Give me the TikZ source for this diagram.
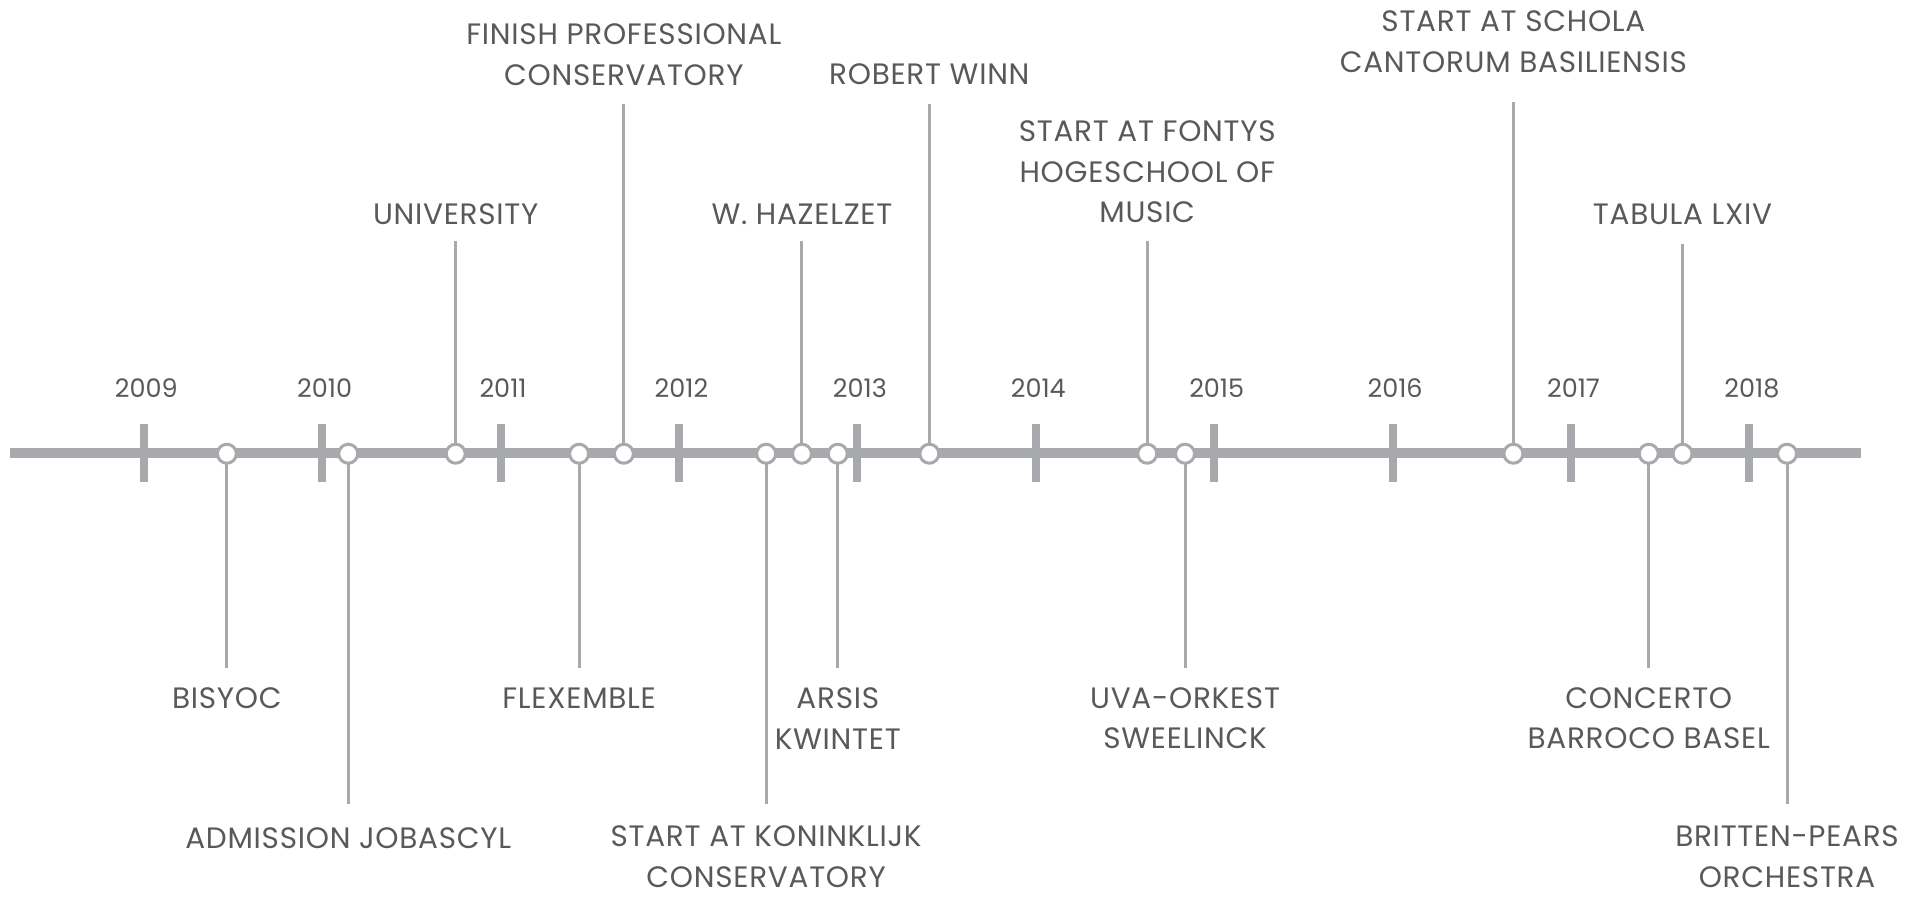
\documentclass[tikz,border=0pt]{standalone}
\usepackage{fontspec}
\setmainfont{Poppins}
\usepackage{tikz}
\usetikzlibrary{shapes,arrows}

\definecolor{axisgray}{HTML}{A7A9AC}
\definecolor{textgray}{HTML}{58595B}

\tikzset{
  axis/.style={draw=axisgray, line width=10pt},
  tickmark/.style={fill=axisgray, inner sep=0pt, minimum width=8pt, minimum height=58pt},
  yearlbl/.style={text=textgray, font=\fontsize{25.5}{30}\selectfont},
  dot/.style={circle, draw=axisgray, fill=white, line width=3pt, inner sep=0pt, minimum size=19pt},
  stem/.style={draw=axisgray, line width=3pt},
  evlbl/.style={text=textgray, align=center, inner sep=0pt, font=\fontsize{29.5}{40.5}\selectfont\addfontfeature{LetterSpace=2.5}}
}

\begin{document}
\begin{tikzpicture}[x=0.995pt, y=0.995pt]
  \useasboundingbox (0,0) rectangle (1919.6,-901.5);
  % time axis
  \coordinate (start) at (10,-455);
  \coordinate (end) at (1870,-455);
  \draw[axis] (start) -- (end);
  \node[tickmark] (t2009) at (144.5,-455) {};
  \node[tickmark] (t2010) at (323.8,-455) {};
  \node[tickmark] (t2011) at (503.1,-455) {};
  \node[tickmark] (t2012) at (682.4,-455) {};
  \node[tickmark] (t2013) at (861.7,-455) {};
  \node[tickmark] (t2014) at (1041,-455) {};
  \node[tickmark] (t2015) at (1220.3,-455) {};
  \node[tickmark] (t2016) at (1399.6,-455) {};
  \node[tickmark] (t2017) at (1578.9,-455) {};
  \node[tickmark] (t2018) at (1758.2,-455) {};
  \node[yearlbl] (y2009) at (147,-390) {2009};
  \node[yearlbl] (y2010) at (326.3,-390) {2010};
  \node[yearlbl] (y2011) at (505.6,-390) {2011};
  \node[yearlbl] (y2012) at (684.9,-390) {2012};
  \node[yearlbl] (y2013) at (864.2,-390) {2013};
  \node[yearlbl] (y2014) at (1043.5,-390) {2014};
  \node[yearlbl] (y2015) at (1222.8,-390) {2015};
  \node[yearlbl] (y2016) at (1402.1,-390) {2016};
  \node[yearlbl] (y2017) at (1581.4,-390) {2017};
  \node[yearlbl] (y2018) at (1760.7,-390) {2018};

  % events below the axis
  \coordinate (bisyocE) at (228,-671);
  \coordinate (jobascylE) at (350,-808);
  \coordinate (flexembleE) at (582,-671);
  \coordinate (koninklijkE) at (770,-808);
  \coordinate (arsisE) at (842,-671);
  \coordinate (uvaE) at (1191,-671);
  \coordinate (concertoE) at (1657,-671);
  \coordinate (brittenE) at (1796,-808);
  \node[evlbl] (bisyocL) at (228,-702) {BISYOC};
  \node[evlbl] (jobascylL) at (350,-842) {ADMISSION JOBASCYL};
  \node[evlbl] (flexembleL) at (582,-702) {FLEXEMBLE};
  \node[evlbl] (koninklijkL) at (770,-861) {START AT KONINKLIJK\\CONSERVATORY};
  \node[evlbl] (arsisL) at (842,-722) {ARSIS\\KWINTET};
  \node[evlbl] (uvaL) at (1191,-722) {UVA-ORKEST\\SWEELINCK};
  \node[evlbl] (concertoL) at (1657,-722) {CONCERTO\\BARROCO BASEL};
  \node[evlbl] (brittenL) at (1796,-861) {BRITTEN-PEARS\\ORCHESTRA};

  % events above the axis
  \coordinate (universityE) at (458,-242);
  \coordinate (finishE) at (627,-105);
  \coordinate (hazelzetE) at (806,-242);
  \coordinate (winnE) at (934,-105);
  \coordinate (fontysE) at (1153,-242);
  \coordinate (scholaE) at (1521,-103);
  \coordinate (tabulaE) at (1691,-245);
  \node[evlbl] (universityL) at (458,-215) {UNIVERSITY};
  \node[evlbl] (finishL) at (627,-55) {FINISH PROFESSIONAL\\CONSERVATORY};
  \node[evlbl] (hazelzetL) at (806,-215) {W. HAZELZET};
  \node[evlbl] (winnL) at (934,-75) {ROBERT WINN};
  \node[evlbl] (fontysL) at (1153,-173) {START AT FONTYS\\HOGESCHOOL OF\\MUSIC};
  \node[evlbl] (scholaL) at (1521,-42) {START AT SCHOLA\\CANTORUM BASILIENSIS};
  \node[evlbl] (tabulaL) at (1691,-215) {TABULA LXIV};

  % stems first, then the dots on top
  \draw[stem] (228,-455) -- (bisyocE);
  \draw[stem] (350,-455) -- (jobascylE);
  \draw[stem] (582,-455) -- (flexembleE);
  \draw[stem] (770,-455) -- (koninklijkE);
  \draw[stem] (842,-455) -- (arsisE);
  \draw[stem] (1191,-455) -- (uvaE);
  \draw[stem] (1657,-455) -- (concertoE);
  \draw[stem] (1796,-455) -- (brittenE);
  \draw[stem] (458,-455) -- (universityE);
  \draw[stem] (627,-455) -- (finishE);
  \draw[stem] (806,-455) -- (hazelzetE);
  \draw[stem] (934,-455) -- (winnE);
  \draw[stem] (1153,-455) -- (fontysE);
  \draw[stem] (1521,-455) -- (scholaE);
  \draw[stem] (1691,-455) -- (tabulaE);
  \node[dot] (bisyoc) at (228,-456) {};
  \node[dot] (jobascyl) at (350,-456) {};
  \node[dot] (university) at (458,-456) {};
  \node[dot] (flexemble) at (582,-456) {};
  \node[dot] (finish) at (627,-456) {};
  \node[dot] (koninklijk) at (770,-456) {};
  \node[dot] (hazelzet) at (806,-456) {};
  \node[dot] (arsis) at (842,-456) {};
  \node[dot] (winn) at (934,-456) {};
  \node[dot] (fontys) at (1153,-456) {};
  \node[dot] (uva) at (1191,-456) {};
  \node[dot] (schola) at (1521,-456) {};
  \node[dot] (concerto) at (1657,-456) {};
  \node[dot] (tabula) at (1691,-456) {};
  \node[dot] (britten) at (1796,-456) {};
\end{tikzpicture}
\end{document}
